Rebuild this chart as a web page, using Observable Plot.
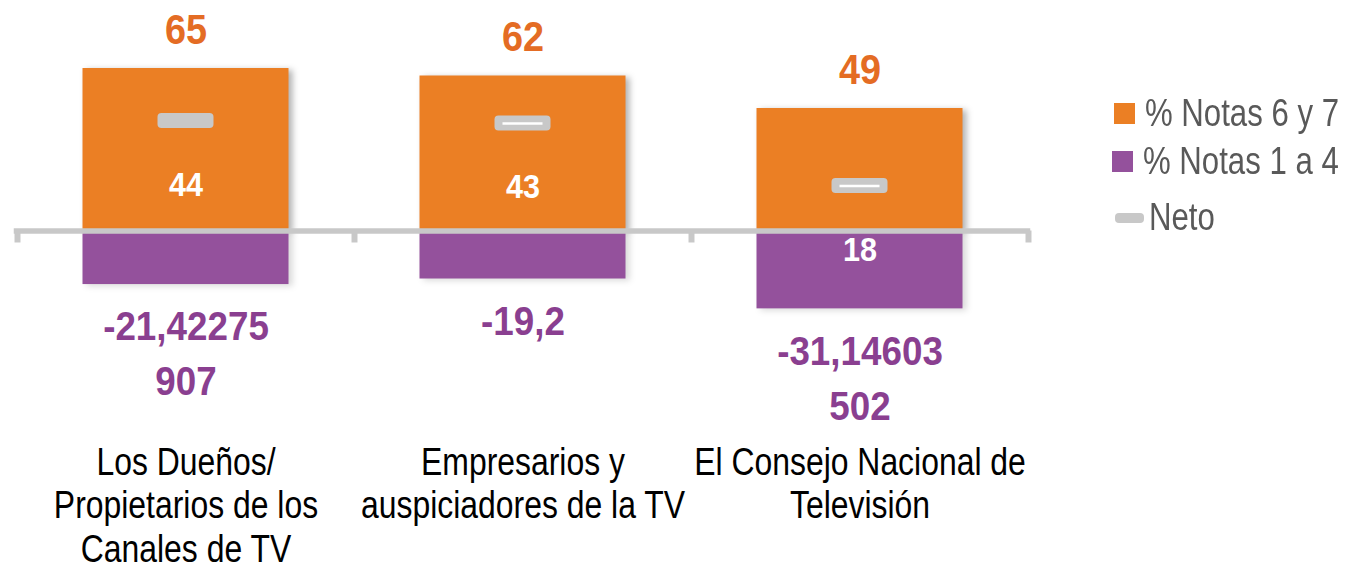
<!DOCTYPE html>
<html>
<head>
<meta charset="utf-8">
<script src="https://cdn.jsdelivr.net/npm/d3@7"></script>
<script src="https://cdn.jsdelivr.net/npm/@observablehq/plot@0.6"></script>
<style>
  html, body { margin: 0; padding: 0; background: #fff; }
  #wrap { position: relative; width: 1345px; height: 567px; overflow: hidden; }
  #chart { position: absolute; left: 0; top: 0; }
  .legend { position: absolute; left: 1112px; top: 92px; font-family: "Liberation Sans", Arial, sans-serif; font-size: 38px; color: #595959; }
  .legend .item { position: absolute; white-space: nowrap; display: flex; align-items: center; }
  .legend .sw { display: inline-block; width: 21px; height: 21px; margin-right: 10px; }
  .legend .neto { display: inline-block; width: 29px; height: 10px; border-radius: 4px; background: #c8c8c8; margin-right: 5px; margin-left: 3px; }
  .legend .lbl { display: inline-block; transform: scaleX(0.82); transform-origin: left center; }
</style>
</head>
<body>
<div id="wrap">
  <div id="chart"></div>
  <div class="legend">
    <div class="item" style="left:2px; top:0px;"><span class="sw" style="background:#EB7F24"></span><span class="lbl">% Notas 6 y 7</span></div>
    <div class="item" style="left:0px; top:48px;"><span class="sw" style="background:#94519C"></span><span class="lbl">% Notas 1 a 4</span></div>
    <div class="item" style="left:0px; top:104px;"><span class="neto"></span><span class="lbl">Neto</span></div>
  </div>
</div>
<script>
const categories = ["Dueños", "Empresarios", "CNTV"];
const categoryLabels = [
  "Los Dueños/\nPropietarios de los\nCanales de TV",
  "Empresarios y\nauspiciadores de la TV",
  "El Consejo Nacional de\nTelevisión"
];
const notas67 = [65, 62, 49];
const notas14 = [-21.42275907, -19.2, -31.14603502];
const neto = [44, 43, 18];

const data = categories.map((c, i) => ({cat: c, pos: notas67[i], neg: notas14[i], neto: neto[i]}));

const fmtNeg = v => {
  const s = String(v).replace(".", ",");
  return s.length > 9 ? s.slice(0, 9) + "\n" + s.slice(9) : s;
};

const ORANGE = "#EB7F24", PURPLE = "#94519C", GRAY = "#C8C8C8";
const numFont = "'Liberation Sans', Arial, sans-serif";

const chart = Plot.plot({
  width: 1345,
  height: 567,
  marginTop: 0,
  marginBottom: 186.5,
  marginLeft: 16.5,
  marginRight: 317.5,
  style: {fontFamily: numFont, background: "transparent", overflow: "visible"},
  x: {domain: categories, padding: 0, axis: null},
  y: {domain: [-60, 92.2], axis: null},
  marks: [
    Plot.barY(data, {x: "cat", y: "pos", fill: ORANGE, insetLeft: 65.5, insetRight: 65.5}),
    Plot.barY(data, {x: "cat", y: "neg", fill: PURPLE, insetLeft: 65.5, insetRight: 65.5}),
    Plot.ruleY([0], {stroke: GRAY, strokeWidth: 5.5, strokeLinecap: "square"}),
    Plot.ruleX(categories, {x: d => d, dx: -168.5, y1: 0, y2: -4.8, stroke: GRAY, strokeWidth: 6}),
    Plot.ruleX(categories.slice(-1), {x: d => d, dx: 168.5, y1: 0, y2: -4.8, stroke: GRAY, strokeWidth: 6}),
    Plot.barY(data, {x: "cat", y1: d => d.neto - 3, y2: d => d.neto + 3, fill: GRAY, insetLeft: 140.5, insetRight: 140.5, rx: 4}),
    Plot.tickY(data, {x: "cat", y: "neto", stroke: "#fff", strokeWidth: 2.5, insetLeft: 148.5, insetRight: 148.5, filter: (d, i) => i > 0}),
    Plot.text(data, {x: "cat", y: "pos", text: d => String(d.pos), dy: -38, fill: "#E46C24", fontSize: 42, fontWeight: "bold"}),
    Plot.text(data, {x: "cat", y: "neto", text: d => String(d.neto), dy: 64, fill: "#fff", fontSize: 34, fontWeight: "bold"}),
    Plot.text(data, {x: "cat", y: "neg", text: d => fmtNeg(d.neg), lineAnchor: "top", dy: 17, lineHeight: 1.37, fill: "#8A3F90", fontSize: 40, fontWeight: "bold"}),
    Plot.text(categories, {x: d => d, text: (d, i) => categoryLabels[i], frameAnchor: "bottom", lineAnchor: "top", dy: 63, lineHeight: 1.145, fontSize: 38, fill: "#000"})
  ]
});
document.getElementById("chart").appendChild(chart);
const squeeze = (g, k) => g.querySelectorAll("text").forEach(el => {
  const t = el.getAttribute("transform") || "";
  el.setAttribute("transform", t + ` scale(${k},1)`);
});
const textGroups = chart.querySelectorAll('g[aria-label="text"]');
squeeze(textGroups[0], 0.9);
squeeze(textGroups[1], 0.9);
squeeze(textGroups[2], 0.92);
squeeze(textGroups[3], 0.84);
const barGroups = chart.querySelectorAll('g[aria-label="bar"]');
barGroups[0].style.filter = "drop-shadow(4px 2px 3px rgba(0,0,0,0.3))";
barGroups[1].style.filter = "drop-shadow(4px 2px 3px rgba(0,0,0,0.15))";
</script>
</body>
</html>
